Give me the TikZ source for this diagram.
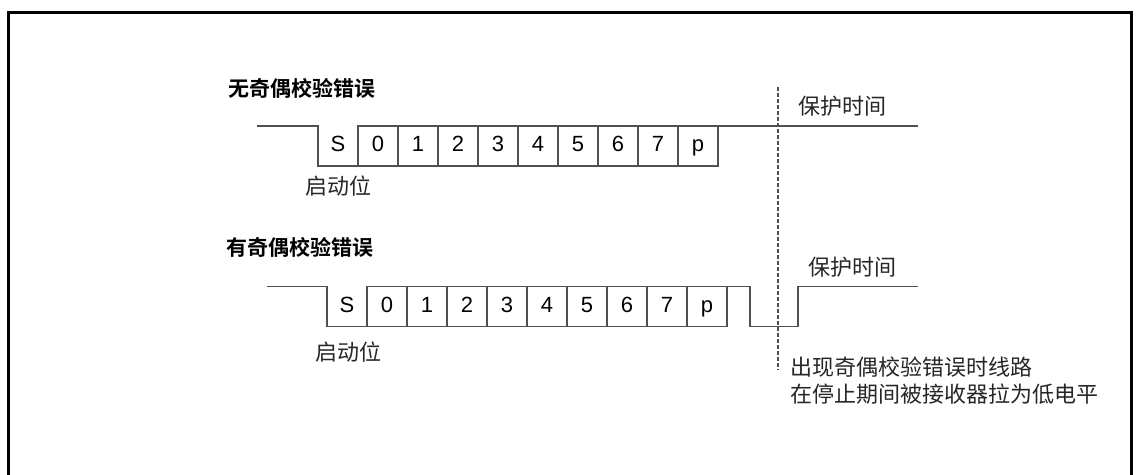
\documentclass[tikz,border=0pt]{standalone}
\usepackage{fontspec}
\setsansfont{Liberation Sans}
\newfontfamily\cjk{Noto Sans CJK SC}[BoldFont={Noto Sans CJK SC Bold}]
\usetikzlibrary{positioning}

\definecolor{wire}{HTML}{505050}
\tikzset{
  bit/.style={draw=wire, line width=0.75pt, minimum width=20pt, minimum height=20pt,
    inner sep=0pt, outer sep=0pt, text height=1.6ex, text depth=0.25ex,
    font=\sffamily\fontsize{11}{12}\selectfont},
  startbit/.style={bit, draw=none},
  wave/.style={wire, line width=0.75pt},
  guard/.style={wire, line width=0.8pt, dash pattern=on 2pt off 1pt},
  title/.style={anchor=west, inner sep=0pt, font=\cjk\bfseries\fontsize{10.5}{12}\selectfont},
  note/.style={anchor=west, inner sep=0pt, text=black!85, align=left,
    font=\cjk\fontsize{11}{13.5}\selectfont}
}

\begin{document}
\begin{tikzpicture}[x=0.5pt, y=-0.5pt]
    \useasboundingbox (0,0) rectangle (1139,475);
    \draw[line width=1.5pt] (8.5,475) -- (8.5,12.5) -- (1131,12.5) -- (1131,475);

    % Frame without parity error
    \node[title] (t1) at (228,88) {无奇偶校验错误};
    \node[startbit] (s1) at (338,146) {S};
    \node[bit, right=0pt of s1] (a0) {0};
    \node[bit, right=0pt of a0] (a1) {1};
    \node[bit, right=0pt of a1] (a2) {2};
    \node[bit, right=0pt of a2] (a3) {3};
    \node[bit, right=0pt of a3] (a4) {4};
    \node[bit, right=0pt of a4] (a5) {5};
    \node[bit, right=0pt of a5] (a6) {6};
    \node[bit, right=0pt of a6] (a7) {7};
    \node[bit, right=0pt of a7] (p1) {p};
    \coordinate (w1) at (257,126);
    \coordinate (e1) at (918,126);
    \draw[wave] (w1) -- (s1.north west) -- (s1.south west) -- (s1.south east);
    \draw[wave] (p1.north east) -- (e1);
    \node[note] (start1) at (305,186) {启动位};
    \node[note] (guard1) at (798,106) {保护时间};

    % Frame with parity error
    \node[title] (t2) at (226,247) {有奇偶校验错误};
    \node[startbit] (s2) at (347,306.5) {S};
    \node[bit, right=0pt of s2] (b0) {0};
    \node[bit, right=0pt of b0] (b1) {1};
    \node[bit, right=0pt of b1] (b2) {2};
    \node[bit, right=0pt of b2] (b3) {3};
    \node[bit, right=0pt of b3] (b4) {4};
    \node[bit, right=0pt of b4] (b5) {5};
    \node[bit, right=0pt of b5] (b6) {6};
    \node[bit, right=0pt of b6] (b7) {7};
    \node[bit, right=0pt of b7] (p2) {p};
    \coordinate (w2) at (267,286.5);
    \coordinate (low2) at (750,326.5);
    \coordinate (rise2) at (798,286.5);
    \coordinate (e2) at (918,286.5);
    \draw[wave] (w2) -- (s2.north west) -- (s2.south west) -- (s2.south east);
    \draw[wave] (p2.north east) -| (low2) -| (rise2) -- (e2);
    \node[note] (start2) at (315,352) {启动位};
    \node[note] (guard2) at (808,267) {保护时间};

    % Stop bit pulled low
    \coordinate (gtop) at (778,87);
    \coordinate (gbot) at (778,370);
    \draw[guard] (gtop) -- (gbot);
    \node[note] (why) at (790,380.5) {出现奇偶校验错误时线路\\在停止期间被接收器拉为低电平};
\end{tikzpicture}
\end{document}
